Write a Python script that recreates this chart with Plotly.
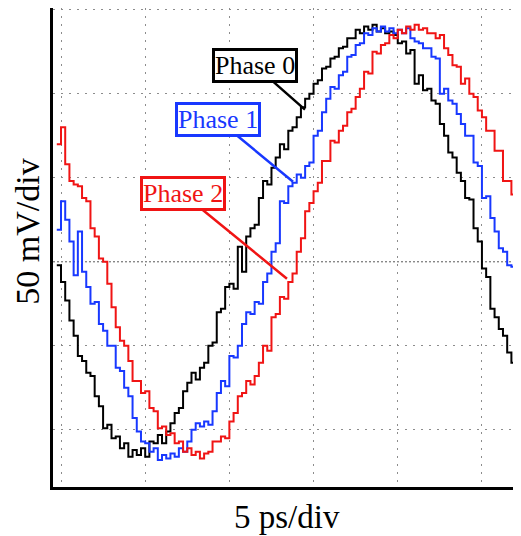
import plotly.graph_objects as go

# time base: oscilloscope samples, 0.25 ps apart (5 ps/div)
t_ps = [round(-0.25 + 0.25 * i, 2) for i in range(111)]

phase0_mv = [-2, -12, -23, -35, -44, -56, -59, -66, -68, -80,
             -86, -99, -97, -105, -104, -111, -108, -116, -112, -115,
             -111, -116, -107, -108, -103, -108, -101, -96, -90, -87,
             -77, -72, -66, -70, -63, -60, -50, -48, -30, -28,
             -15, -13, -16, 9, -6, 15, 20, 22, 38, 48,
             46, 56, 62, 70, 67, 78, 80, 86, 92, 97,
             100, 106, 108, 115, 116, 121, 122, 127, 128, 133,
             133, 138, 136, 140, 138, 141, 137, 139, 136, 137,
             135, 130, 131, 124, 126, 106, 111, 102, 103, 96,
             94, 82, 75, 65, 62, 53, 48, 38, 37, 20,
             12, -4, -9, -28, -33, -40, -44, -54, -60, -61, -68]

phase1_mv = [19, 36, 25, 12, -8, 18, -6, -15, -25, -24,
             -37, -41, -50, -50, -63, -65, -75, -80, -93, -101,
             -107, -108, -113, -111, -118, -115, -117, -114, -116, -111,
             -113, -107, -100, -96, -98, -95, -97, -89, -78, -71,
             -74, -56, -57, -50, -37, -30, -31, -24, -25, -12,
             -7, 6, 11, 36, 35, 45, 47, 52, 50, 57,
             59, 75, 78, 89, 97, 104, 103, 111, 113, 122,
             123, 129, 130, 136, 135, 139, 137, 140, 137, 139,
             136, 138, 136, 139, 133, 131, 130, 127, 127, 122,
             121, 100, 103, 96, 94, 88, 82, 75, 75, 59,
             57, 38, 39, 26, 18, 8, 6, -2, -3, -16, -6]

phase2_mv = [70, 80, 58, 48, 46, 45, 38, 36, 20, 15,
             2, 0, -13, -27, -39, -47, -50, -59, -71, -71,
             -78, -77, -87, -89, -99, -98, -103, -102, -108, -107,
             -113, -111, -115, -113, -117, -114, -113, -107, -107, -104,
             -105, -95, -90, -80, -78, -71, -73, -68, -60, -50,
             -53, -33, -31, -21, -22, -12, -7, 6, 14, 30,
             35, 42, 47, 60, 60, 72, 71, 78, 81, 89,
             91, 98, 103, 113, 112, 125, 124, 129, 130, 135,
             133, 138, 136, 140, 138, 141, 138, 139, 136, 136,
             133, 135, 127, 123, 117, 116, 106, 109, 100, 98,
             90, 86, 78, 78, 66, 66, 48, 48, 40, 36, 12]

series_names = ["Phase 0", "Phase 1", "Phase 2"]
series_values = [phase0_mv, phase1_mv, phase2_mv]
series_colors = ["#000000", "#1838ff", "#f01414"]

# label text position and arrow tip, in data units (ps, mV)
label_pos = [(11.52, 116.7), (9.32, 84.5), (7.24, 40.5)]
arrow_tip = [(14.49, 90.5), (13.78, 47.6), (13.42, -10.1)]

FONT = "Liberation Serif"

fig = go.Figure()
for name, vals, col in zip(series_names, series_values, series_colors):
    fig.add_trace(go.Scatter(x=t_ps, y=vals, mode="lines", name=name,
                             line=dict(color=col, width=2, shape="hv")))

for name, col, (lx, ly), (tx, ty) in zip(series_names, series_colors, label_pos, arrow_tip):
    fig.add_annotation(x=tx, y=ty, ax=lx, ay=ly, xref="x", yref="y",
                       axref="x", ayref="y", text=name, showarrow=True,
                       arrowhead=0, arrowwidth=2.5, arrowcolor=col,
                       font=dict(family=FONT, size=26, color=col),
                       bordercolor=col, borderwidth=3, borderpad=0,
                       bgcolor="white")

# dark dotted centre line
fig.add_shape(type="line", xref="paper", yref="y", x0=0, x1=1, y0=0, y1=0,
              line=dict(color="#555555", width=1, dash="2px,2px"), layer="below")

fig.add_annotation(text="50 mV/div", xref="paper", yref="paper", x=0, y=0.533,
                   xshift=-25, textangle=-90, showarrow=False,
                   xanchor="center", yanchor="middle",
                   font=dict(family=FONT, size=34, color="black"))
fig.add_annotation(text="5 ps/div", xref="paper", yref="paper", x=0.5, y=0,
                   yshift=-30, showarrow=False, xanchor="center", yanchor="middle",
                   font=dict(family=FONT, size=33, color="black"))

grid = dict(showgrid=True, gridcolor="#8c8c8c", gridwidth=1, griddash="2px,6px",
            zeroline=False, showticklabels=False, ticks="",
            showline=True, linecolor="black", linewidth=3)

fig.update_xaxes(range=[-0.475, 27.32], tick0=0, dtick=5, **grid)
fig.update_yaxes(range=[-134, 151], tick0=0, dtick=50, **grid)

# page body has an 8px margin, so the figure is sized to fit the window
fig.update_layout(width=513, height=528, showlegend=False,
                  margin=dict(l=45, r=0, t=0, b=49),
                  paper_bgcolor="white", plot_bgcolor="white",
                  font=dict(family=FONT))

fig.write_html("out.html")
